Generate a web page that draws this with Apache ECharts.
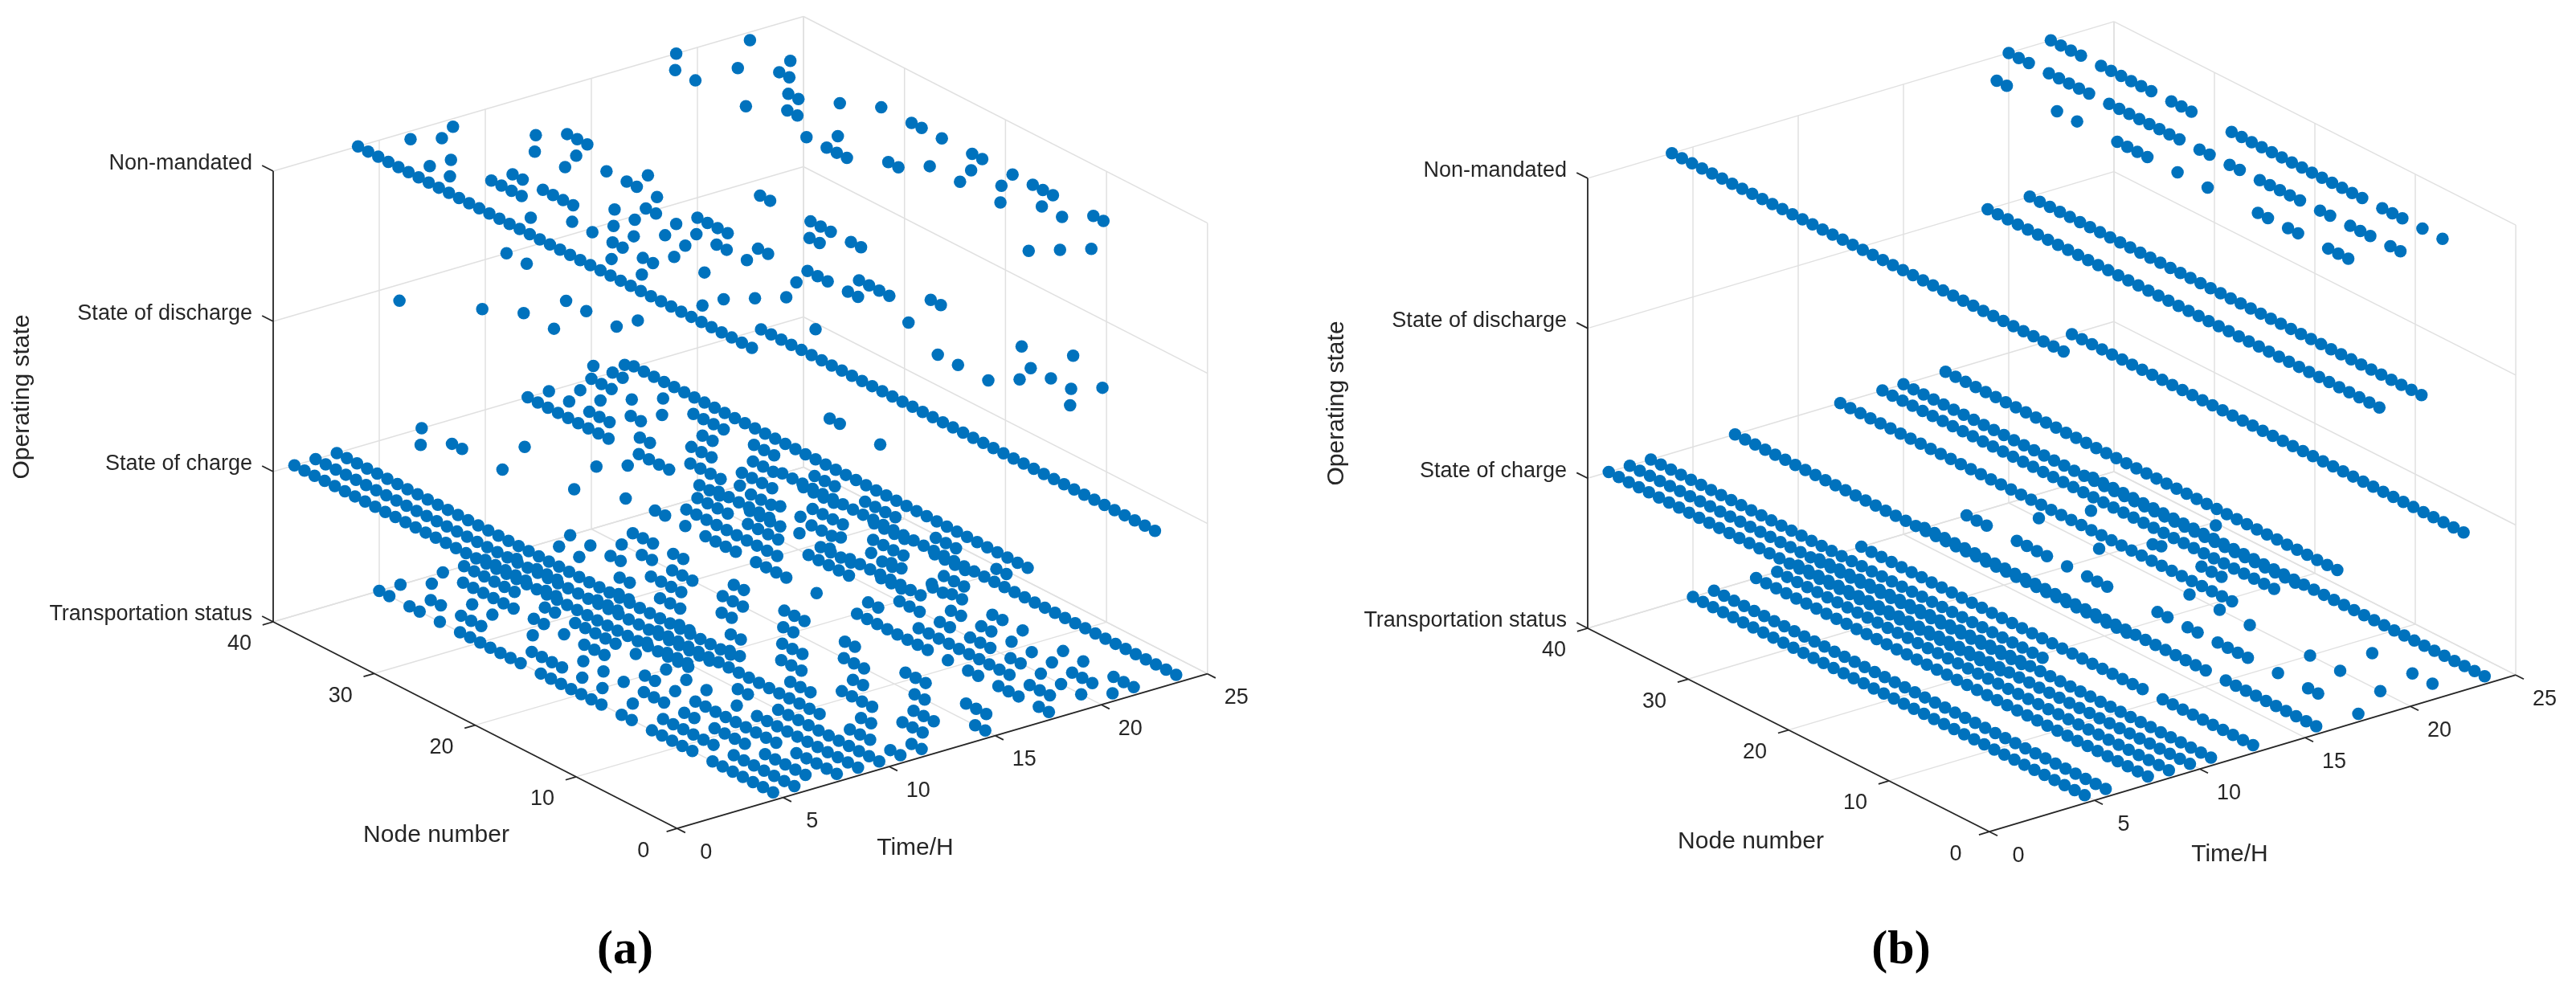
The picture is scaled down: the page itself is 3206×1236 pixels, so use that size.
<!DOCTYPE html>
<html>
<head>
<meta charset="utf-8">
<script src="https://cdn.jsdelivr.net/npm/echarts@6.0.0/dist/echarts.min.js"></script>
<style>
  html, body { margin: 0; padding: 0; background: #fff; }
  #main { width: 3206px; height: 1236px; }
</style>
</head>
<body>
<div id="main"></div>
<script>
// z levels, bottom to top
const stateNames = ['Transportation status', 'State of charge', 'State of discharge', 'Non-mandated']
const stateCodes = ['T', 'C', 'D', 'N']
const timeTicks = [0, 5, 10, 15, 20, 25]
const nodeTicks = [0, 10, 20, 30, 40]
const hours = [1, 2, 3, 4, 5, 6, 7, 8, 9, 10, 11, 12, 13, 14, 15, 16, 17, 18, 19, 20, 21, 22, 23, 24]

// one string per hour, one letter per node (node 1 first, node 40 last)
const statesA = [
  'CCCCCCCCCC CCCCCCCCCC CCCCCCCCCC CCCCCCCCCC',
  'CCCCCCCCCC CCCCCCCCCC CCCCCCCCCC CCCCCCCCCC',
  'CCCCCCCCCC CCCCCCCCCC CCCCCCCCCC CCCCCCCCCC',
  'NNNNNNNNNN NNNNNNNNNN NNNNNNNNNN NNNNNNNNNN',
  'TTTTTTTNTT TTTNTTNTTT TTTTNTTTTT TTNTNTTDTT',
  'TTTTTTTNTT TTTTNNTNNT NTNTTTTNNN NTTTNTTCNT',
  'NTTTTTNTTT TNTTNTTTNT NTDTNNNNTN NCTDTCCNTC',
  'TTTTTNTTTT TTTTTNTNTT NDNTTTCTDT TDTTTTTTNT',
  'TTTTTTTTTT TNTNNTNTNT NNTCTTTTTN TTNCTTTTTT',
  'TTTTTTTTTT TNNTTNNNNT TTNTNNDNCD NDTTNTTTTT',
  'TTDTTTDDTT TTTTTTTTTT TTTTTNDCTT TNNNTTTDTD',
  'TTCCCTTCCC CTTTCCCCTT CCCTTCCCCT TCCCCCCCCC',
  'CCTTTCCTTT TCCCTTTCCC TTCCCCTTTC CTTCCCTCTC',
  'CCCTTTCCCC TTCCCCTTTC CCCTTCCCTT TTCCTTCTCT',
  'TTCCCCTTCC CCTTTCCCCT TCCCTTTCCT TTCTTCTCCC',
  'CCTTTCCCTT TCCCCTTCCC TTTCCCTTCC CCTTCTTTCC',
  'CCCCCCCCCC CCCCCCCCCC CCCCCCCCCC CCCCCCCCCC',
  'TTNTTTDTTD TDTTTTTTTT NNNTNDTTTT NTTTTNTNTT',
  'DNTTTDTTTT TTTTTTDNNT TDDNDDDNNT TTTTTTTTTN',
  'NTDTDTDTTN TTTNTTNTTT DDDDTTTTTN NTTTTNTTTT',
  'TDTTTNTNTD TNTTNTTDDT TTTTTTTNTD DTNNTTTTTT',
  'TTTNNTDTNN NTNTTNNTTN TNNTTNTDDT DDDTNTDDNT',
  'CCCCCCCCCC CCCCCCCCCC CCCCCCCCCC CCCCCCCCCC',
  'TTTTTTTTTT TTTTTTTTTT TTTTTTTTTT TTTTTTTTTT'
]

const statesB = [
  'CCCCCCCCCC CCCCCCCCCC CCCCCCCCCC CCCCCCCCCC',
  'CCCCCCCCCC CCCCCCCCCC CCCCCCCCCC CCCCCCCCCC',
  'CCCCCCCCCC CCCCCCCCCC CCCCCCCCCC CCCCCCCCCC',
  'NNNNNNNNNN NNNNNNNNNN NNNNNNNNNN NNNNNNNNNN',
  'TTTTTTTTTT TTTTTTTTTT TTTTTTTTTT TTTTTTTTTT',
  'TTTTTTTTTT TTTTTTTTTT TTTTTTTTTT TTTTTTTTTT',
  'CCCCCCCCCC CCCCCCCCCC CCCCCCCCCC CCCCCCCCCC',
  'TTTTTTTTTT TTTTTTTTTT TTTTTTTTTT TTTTTTTTTT',
  'TTTTTTTTTT TTTTTTTTTT TTTTTTTTTT TTTTTTTTTT',
  'TTTTTTTTTT TTTTTTTTTT TTTTTTTTTT TTTTTTTTTT',
  'TTTTTTTTTT TTTTTTTTTT TTTTTTTTTT TTTTTTTTTT',
  'CCCCCCCCCC CCCCCCCCCC CCCCCCCCCC CCCCCCCCCC',
  'TTTTTTTTTT CTTTTTTTTT TTTTTTTTTT TTTTTTTTTT',
  'CCCCCCCCCC CCCCCCCCCC CCCCCCCCCC CCCCCCCCCC',
  'CCCCCCCCCC CCCCCCCCCC CCCCCCCCCC CCCCCCCCCC',
  'TTTTTTTTTT CTTTTTTTTT TTTTTTTTTT TTTTTTTTTT',
  'CCCCCCCCCC CCCCCCCCCC CCCCCCCCCC CCCCCCCCCC',
  'TNNNTTNNTN NTTTTNTTNT TNNNNTTTNT NTTTTNNTTT',
  'DDDDDDDDDD DDDDDDDDDD DDDDDDDDDD DDDDDDDDDD',
  'NNTNNNTNNT NNNNNTNNTN NTNNNNNNNN TNNNNNTNNN',
  'DDDDDDDDDD DDDDDDDDDD DDDDDDDDDD DDDDDDDDDD',
  'NTNTNNNTNN NNNNNNNNNN NNTTTNNNTN NNNNNTNNNN',
  'CCCCCCCCCC CCCCCCCCCC CCCCCCCCCC CCCCCCCCCC',
  'TTTTTTTTTT TTTTTTTTTT TTTTTTTTTT TTTTTTTTTT'
]

// view of each 3D box: origin at (time 0, node max, lowest state), screen step per hour / per node / per state
const panels = [
  { states: statesA, ox: 340, oy: 774, hx: 26.4, hy: -7.7, nx: 12.57, ny: 6.43, lz: 187, tag: '(a)', tagX: 778 },
  { states: statesB, ox: 1976, oy: 782, hx: 26.2, hy: -7.8, nx: 12.5, ny: 6.33, lz: 186.7, tag: '(b)', tagX: 2366 }
]

const tMax = timeTicks[timeTicks.length - 1]
const nMax = nodeTicks[nodeTicks.length - 1]
const zTop = stateNames.length - 1

function project (p, t, n, z) {
  const m = nMax - n
  return [p.ox + t * p.hx + m * p.nx, p.oy + t * p.hy + m * p.ny - z * p.lz]
}

const gridSegs = []
const axisSegs = []
const points = []
const labels = []
const sans = "'Liberation Sans', Arial, Helvetica, sans-serif"

panels.forEach(p => {
  nodeTicks.forEach(n => {
    gridSegs.push([...project(p, 0, n, 0), ...project(p, tMax, n, 0)])
    gridSegs.push([...project(p, tMax, n, 0), ...project(p, tMax, n, zTop)])
  })
  timeTicks.forEach(t => {
    gridSegs.push([...project(p, t, 0, 0), ...project(p, t, nMax, 0)])
    gridSegs.push([...project(p, t, nMax, 0), ...project(p, t, nMax, zTop)])
  })
  for (let z = 0; z <= zTop; z++) {
    gridSegs.push([...project(p, 0, nMax, z), ...project(p, tMax, nMax, z)])
    gridSegs.push([...project(p, tMax, nMax, z), ...project(p, tMax, 0, z)])
  }

  axisSegs.push([...project(p, 0, nMax, 0), ...project(p, 0, nMax, zTop)])
  axisSegs.push([...project(p, 0, nMax, 0), ...project(p, 0, 0, 0)])
  axisSegs.push([...project(p, 0, 0, 0), ...project(p, tMax, 0, 0)])

  stateNames.forEach((name, z) => {
    const a = project(p, 0, nMax, z)
    axisSegs.push([...a, ...project(p, 0, nMax + 1.1, z)])
    labels.push({ x: a[0] - 26, y: a[1] - 9, text: name, align: 'right', font: '27px ' + sans })
  })
  nodeTicks.forEach(n => {
    const a = project(p, 0, n, 0)
    axisSegs.push([...a, ...project(p, -0.5, n, 0)])
    labels.push({ x: a[0] - 42, y: a[1] + 28, text: String(n), align: 'center', font: '27px ' + sans })
  })
  timeTicks.forEach(t => {
    const a = project(p, t, 0, 0)
    axisSegs.push([...a, ...project(p, t, -0.8, 0)])
    labels.push({ x: a[0] + 36, y: a[1] + 30, text: String(t), align: 'center', font: '27px ' + sans })
  })

  labels.push({ x: p.ox - 312, y: p.oy - 280, text: 'Operating state', align: 'center', rot: Math.PI / 2, font: '30px ' + sans })
  labels.push({ x: p.ox + 203, y: p.oy + 266, text: 'Node number', align: 'center', font: '30px ' + sans })
  labels.push({ x: p.ox + 799, y: p.oy + 282, text: 'Time/H', align: 'center', font: '30px ' + sans })
  labels.push({ x: p.tagX, y: 1183, text: p.tag, align: 'center', font: "bold 60px 'Liberation Serif', 'DejaVu Serif', serif", color: '#000' })

  p.states.forEach((row, h) => {
    const codes = row.replace(/\s/g, '')
    for (let i = 0; i < codes.length; i++) {
      const z = stateCodes.indexOf(codes[i])
      if (z < 0) continue
      points.push(project(p, hours[h], i + 1, z))
    }
  })
})

function segRender (color, width) {
  return (params, api) => {
    const a = api.coord([api.value(0), api.value(1)])
    const b = api.coord([api.value(2), api.value(3)])
    return {
      type: 'line',
      shape: { x1: a[0], y1: a[1], x2: b[0], y2: b[1] },
      style: { stroke: color, lineWidth: width }
    }
  }
}

const chart = echarts.init(document.getElementById('main'))
const option = {
  backgroundColor: '#fff',
  animation: false,
  grid: { left: 0, top: 0, width: 3206, height: 1236 },
  xAxis: { type: 'value', min: 0, max: 3206, show: false },
  yAxis: { type: 'value', min: 0, max: 1236, inverse: true, show: false },
  series: [
    {
      type: 'custom',
      silent: true,
      encode: { x: [0, 2], y: [1, 3] },
      data: gridSegs,
      renderItem: segRender('#e0e0e0', 1.5),
      z: 1
    },
    {
      type: 'custom',
      silent: true,
      encode: { x: [0, 2], y: [1, 3] },
      data: axisSegs,
      renderItem: segRender('#262626', 1.8),
      z: 2
    },
    {
      type: 'scatter',
      silent: true,
      symbol: 'circle',
      symbolSize: 15.5,
      data: points,
      itemStyle: { color: '#0072BD', opacity: 1 },
      z: 3
    },
    {
      type: 'custom',
      silent: true,
      data: labels.map(l => [l.x, l.y]),
      renderItem: (params, api) => {
        const l = labels[params.dataIndex]
        const a = api.coord([api.value(0), api.value(1)])
        return {
          type: 'text',
          x: a[0],
          y: a[1],
          rotation: l.rot || 0,
          style: { text: l.text, font: l.font, fill: l.color || '#262626', align: l.align, verticalAlign: 'middle' }
        }
      },
      z: 4
    }
  ]
}
chart.setOption(option)
</script>
</body>
</html>
